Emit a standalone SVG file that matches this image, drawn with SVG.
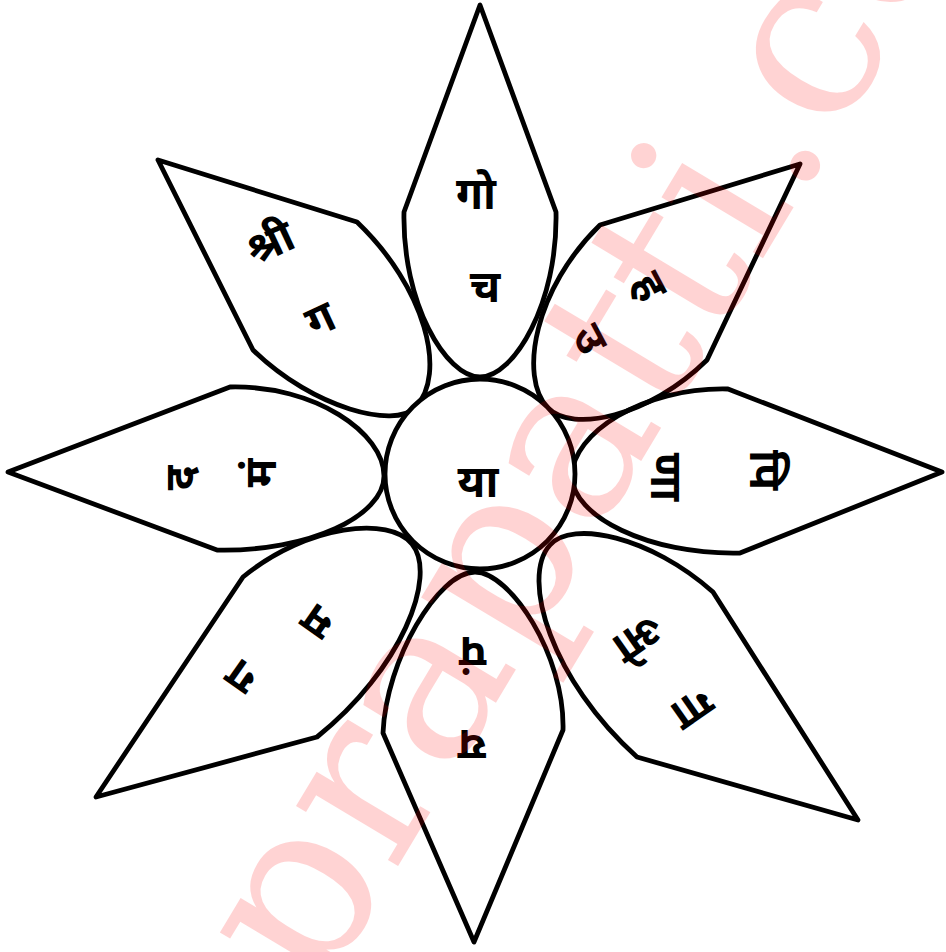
<svg xmlns="http://www.w3.org/2000/svg" width="946" height="952" viewBox="0 0 946 952">
<style>
.petal{fill:none;stroke:#000;stroke-width:4.8;stroke-linejoin:round}
.hub{fill:#fff;stroke:#000;stroke-width:4.8}
.dv{font-family:"Noto Sans Devanagari","Noto Sans","DejaVu Sans",sans-serif;font-size:44px;font-weight:bold;text-anchor:middle;dominant-baseline:central;fill:#000}
.wm{font-family:"DejaVu Serif","Liberation Serif",serif;font-size:228px;fill:#ff0000;opacity:0.17}
</style>
<rect width="946" height="952" fill="#fff"/>
<g id="petal-top"><path class="petal" d="M480,5 L404,212 C402,303 446,377 480,377 C514,377 558,303 556,212 Z"/>
<text class="dv" transform="translate(476,198)">गो</text><text class="dv" transform="translate(485,291)">च</text></g>
<g id="petal-upper-right"><path class="petal" d="M800,164 L600,225 C535,288 518,377 548,408 C572,433 649,417 707,360 Z"/>
<text class="dv" transform="translate(646,288) rotate(62)">ह</text><text class="dv" transform="translate(586,341) rotate(62)">उ</text></g>
<g id="petal-right"><path class="petal" d="M942,472 L728,389 C642,387 572,434 572,476 C572,516 648,555 740,553 Z"/>
<text class="dv" transform="translate(661,477) rotate(90)">णा</text><text class="dv" transform="translate(760,470) rotate(90)">पि</text></g>
<g id="petal-lower-right"><path class="petal" d="M858,820 L713,592 C650,536 572,520 550,545 C520,578 552,681 637,757 Z"/>
<text class="dv" transform="translate(636,635) rotate(145)">ओ</text><text class="dv" transform="translate(690,705) rotate(145)">गा</text></g>
<g id="petal-bottom"><path class="petal" d="M474,942 L383,733 C386,660 438,572 475,572 C510,572 565,655 563,730 Z"/>
<text class="dv" transform="translate(473,647) rotate(180)">पं</text><text class="dv" transform="translate(472,740) rotate(180)">य</text></g>
<g id="petal-lower-left"><path class="petal" d="M96,797 L243,577 C308,524 390,516 412,544 C438,576 401,670 317,737 Z"/>
<text class="dv" transform="translate(320,618) rotate(-145)">म</text><text class="dv" transform="translate(244,673) rotate(-145)">ग</text></g>
<g id="petal-left"><path class="petal" d="M8,472 L230,387 C315,385 384,433 384,476 C384,516 309,552 217,550 Z"/>
<text class="dv" transform="translate(265,473) rotate(-90)">मं</text><text class="dv" transform="translate(185,478) rotate(-90)">द</text></g>
<g id="petal-upper-left"><path class="petal" d="M158,160 L357,222 C425,287 448,374 415,408 C395,428 315,410 253,350 Z"/>
<text class="dv" transform="translate(272,247) rotate(-25)">श्री</text><text class="dv" transform="translate(322,323) rotate(-25)">ग</text></g>
<g id="hub"><circle class="hub" cx="480" cy="474" r="95"/>
<text class="dv" transform="translate(478,486)">या</text></g>
<text class="wm" transform="translate(318,999) rotate(-59)">prapatti.com</text>
</svg>
